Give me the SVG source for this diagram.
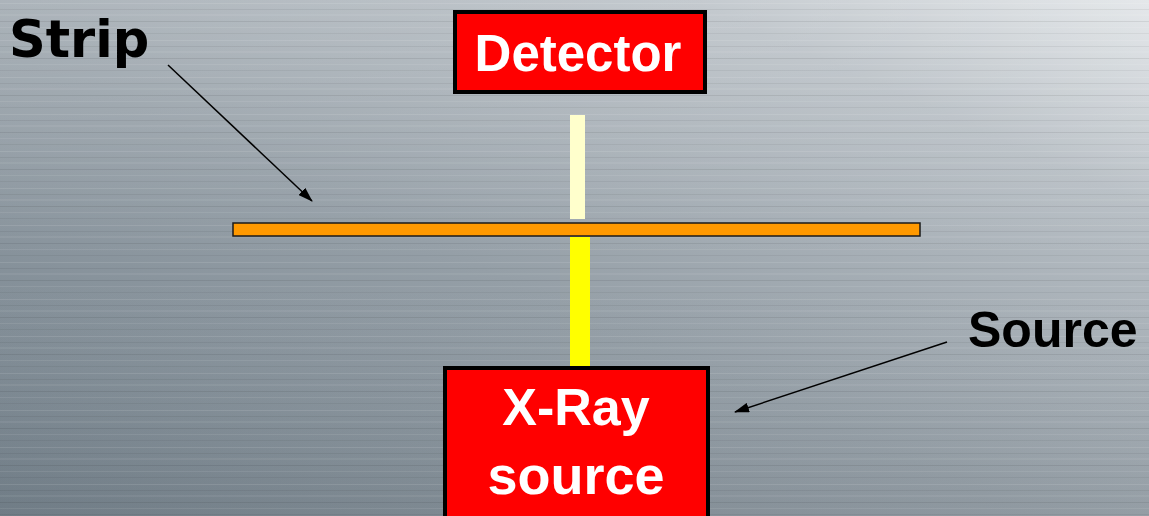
<svg xmlns="http://www.w3.org/2000/svg" width="1149" height="516" viewBox="0 0 1149 516">
  <defs>
    <linearGradient id="bg" x1="0" y1="1" x2="1" y2="0">
      <stop offset="0" stop-color="#74818b"/>
      <stop offset="0.45" stop-color="#959fa7"/>
      <stop offset="0.8" stop-color="#b7bec4"/>
      <stop offset="1" stop-color="#dfe3e6"/>
    </linearGradient>
    <linearGradient id="vshade" x1="0" y1="0" x2="0" y2="1">
      <stop offset="0" stop-color="#ffffff" stop-opacity="0.18"/>
      <stop offset="0.5" stop-color="#ffffff" stop-opacity="0"/>
      <stop offset="1" stop-color="#000000" stop-opacity="0.04"/>
    </linearGradient>
    <pattern id="brush" width="1149" height="37" patternUnits="userSpaceOnUse">
      <rect x="0" y="3" width="1149" height="1" fill="#ffffff" opacity="0.10"/>
      <rect x="0" y="9" width="1149" height="1" fill="#000000" opacity="0.06"/>
      <rect x="0" y="14" width="1149" height="2" fill="#ffffff" opacity="0.06"/>
      <rect x="0" y="21" width="1149" height="1" fill="#000000" opacity="0.08"/>
      <rect x="0" y="27" width="1149" height="1" fill="#ffffff" opacity="0.08"/>
      <rect x="0" y="33" width="1149" height="1" fill="#000000" opacity="0.05"/>
    </pattern>
    <marker id="arrow" viewBox="0 0 15 10" refX="14" refY="5" markerWidth="15" markerHeight="10" markerUnits="userSpaceOnUse" orient="auto">
      <path d="M0,0 L15,5 L0,10 Z" fill="#000"/>
    </marker>
    <style>
      .box { fill: #ff0000; stroke: #000; stroke-width: 4; }
      .wt { font-family: "Liberation Sans", Arial, sans-serif; font-weight: bold; font-size: 52px; fill: #fff; text-anchor: middle; }
      .bt { font-family: "Liberation Sans", Arial, sans-serif; font-weight: bold; font-size: 50px; fill: #000; }
      .st { font-family: "DejaVu Sans", Verdana, sans-serif; font-weight: bold; font-size: 51px; fill: #000; }
      .conn { stroke: #000; stroke-width: 1.5; fill: none; marker-end: url(#arrow); }
    </style>
  </defs>

  <rect x="0" y="0" width="1149" height="516" fill="url(#bg)"/>
  <rect x="0" y="0" width="1149" height="516" fill="url(#vshade)"/>
  <rect x="0" y="0" width="1149" height="516" fill="url(#brush)"/>

  <g id="beam-upper">
    <rect x="570" y="115" width="15" height="104" fill="#ffffcc"/>
  </g>
  <g id="beam-lower">
    <rect x="570" y="237" width="20" height="130" fill="#ffff00"/>
  </g>

  <g id="strip">
    <rect x="233" y="223" width="687" height="13" fill="#ff9900" stroke="#1a1a1a" stroke-width="1.5"/>
  </g>

  <g id="detector">
    <rect class="box" x="455" y="12" width="250" height="80"/>
    <text class="wt" x="578" y="71" style="font-size:51px">Detector</text>
  </g>

  <g id="xray-source">
    <rect class="box" x="445" y="368" width="263" height="160"/>
    <text class="wt" x="576" y="425">X-Ray</text>
    <text class="wt" x="576" y="494" style="font-size:54px">source</text>
  </g>

  <g id="label-strip">
    <text class="st" x="9" y="57">Strip</text>
  </g>

  <g id="label-source">
    <text class="bt" x="968" y="347">Source</text>
  </g>

  <g id="connectors">
    <line class="conn" x1="168" y1="65" x2="312" y2="201"/>
    <line class="conn" x1="947" y1="342" x2="735" y2="412"/>
  </g>
</svg>
